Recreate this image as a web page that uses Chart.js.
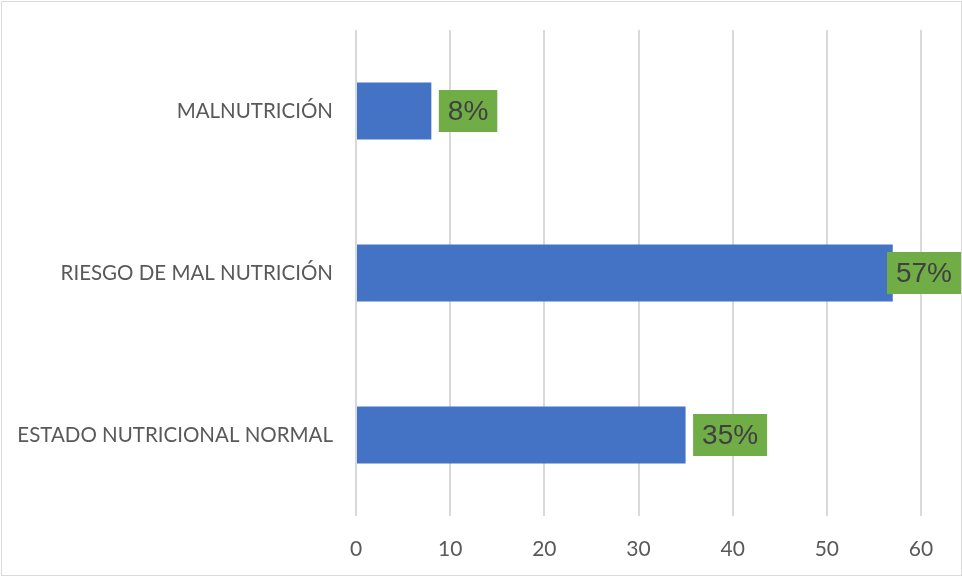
<!DOCTYPE html>
<html>
<head>
<meta charset="utf-8">
<script src="https://cdn.jsdelivr.net/npm/chart.js@4.4.1/dist/chart.umd.min.js"></script>
<style>
  html, body { margin: 0; padding: 0; background: #ffffff; }
  #wrap { position: relative; width: 962px; height: 577px; box-sizing: border-box; }
  #wrap::after { content: ""; position: absolute; left: 1px; top: 1px; right: 0; bottom: 1px; border: 1px solid #d9d9d9; pointer-events: none; }
  canvas { display: block; }
</style>
</head>
<body>
<div id="wrap"><canvas id="c" width="962" height="577"></canvas></div>
<script>
// Nutritional status distribution
const categories = ["MALNUTRICIÓN", "RIESGO DE MAL NUTRICIÓN", "ESTADO NUTRICIONAL NORMAL"];
const values = [8, 57, 35];
const valueLabels = ["8%", "57%", "35%"];
const xTicks = [0, 10, 20, 30, 40, 50, 60];

// Green value boxes placed just past the end of each bar
const valueBoxes = {
  id: "valueBoxes",
  afterDatasetsDraw(chart) {
    const ctx = chart.ctx;
    const meta = chart.getDatasetMeta(0);
    ctx.save();
    ctx.font = "28px 'Liberation Sans', Arial, sans-serif";
    ctx.textBaseline = "middle";
    ctx.textAlign = "left";
    meta.data.forEach((bar, i) => {
      const text = valueLabels[i];
      const tw = ctx.measureText(text).width;
      const padX = 9, h = 42;
      const w = tw + padX * 2;
      let x = bar.x + 7.5;
      if (x + w > chart.width - 1) x = chart.width - 1 - w;
      const y = bar.y - h / 2;
      ctx.fillStyle = "#70ad47";
      ctx.fillRect(x, y, w, h);
      ctx.fillStyle = "#404040";
      ctx.fillText(text, x + padX, bar.y + 1);
    });
    ctx.restore();
  }
};

new Chart(document.getElementById("c"), {
  type: "bar",
  data: {
    labels: categories,
    datasets: [{
      data: values,
      backgroundColor: "#4472c4",
      borderWidth: 0,
      barPercentage: 1,
      categoryPercentage: 0.352
    }]
  },
  options: {
    indexAxis: "y",
    responsive: false,
    animation: false,
    devicePixelRatio: 1,
    layout: { padding: { left: 0, top: 30, right: 41, bottom: 0 } },
    plugins: { legend: { display: false }, tooltip: { enabled: false } },
    scales: {
      x: {
        min: 0,
        max: 60,
        afterBuildTicks(axis) { axis.ticks = xTicks.map(v => ({ value: v })); },
        afterFit(axis) {
          axis.height = 61;
          axis.paddingLeft = 0;
          axis.paddingRight = 0;
        },
        grid: { color: "#d9d9d9", lineWidth: 2, drawTicks: false },
        border: { display: false },
        ticks: {
          padding: 21,
          color: "#595959",
          font: { family: "Lato", size: 21 }
        }
      },
      y: {
        afterFit(axis) {
          axis.width = 356;
          axis.paddingTop = 0;
          axis.paddingBottom = 0;
        },
        grid: { display: false, drawTicks: false },
        border: { display: false },
        ticks: {
          padding: 23,
          color: "#595959",
          font: { family: "Lato", size: 20.5 }
        }
      }
    }
  },
  plugins: [valueBoxes]
});
</script>
</body>
</html>
